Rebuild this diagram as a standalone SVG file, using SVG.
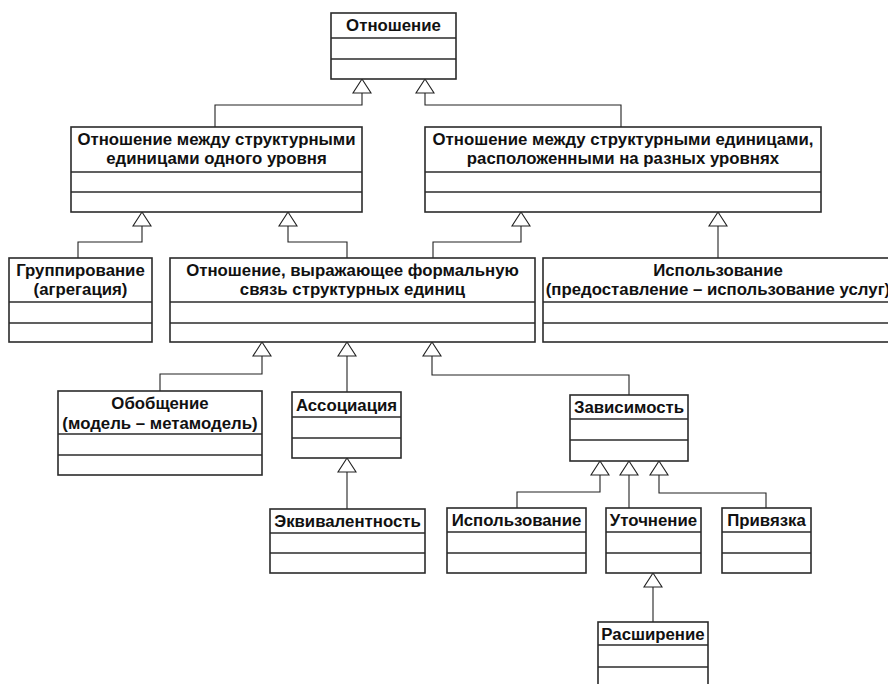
<svg xmlns="http://www.w3.org/2000/svg" width="888" height="684" viewBox="0 0 888 684">
  <style>
    .box { fill: #ffffff; stroke: #2b2b2b; stroke-width: 1.6; }
    .div { stroke: #2b2b2b; stroke-width: 1.6; }
    .t { font-family: "Liberation Sans", Arial, sans-serif; font-weight: bold; font-size: 16.8px; fill: #111; text-anchor: middle; }
    .conn { fill: none; stroke: #222; stroke-width: 1.1; }
    .tri { fill: #ffffff; stroke: #222; stroke-width: 1.1; }
  </style>
  <defs>
    <!-- generalization arrowhead: apex at (0,0), opening downward -->
    <path id="gen" class="tri" d="M0,0 L9,14 L-9,14 Z"/>
  </defs>
  <rect width="888" height="684" fill="#ffffff"/>

  <!-- connectors -->
  <g id="connectors">
    <path class="conn" d="M362,93 V105 H215 V127"/>
    <path class="conn" d="M425,93 V105 H621 V127"/>
    <path class="conn" d="M142,226 V242 H78 V258"/>
    <path class="conn" d="M288,226 V242 H347 V258"/>
    <path class="conn" d="M521,226 V242 H433 V258"/>
    <path class="conn" d="M718,226 V258"/>
    <path class="conn" d="M262,356 V374 H160 V391"/>
    <path class="conn" d="M347,356 V392"/>
    <path class="conn" d="M432,356 V375 H629 V395"/>
    <path class="conn" d="M347,472 V509"/>
    <path class="conn" d="M600,475 V492 H517 V508"/>
    <path class="conn" d="M629,475 V508"/>
    <path class="conn" d="M659,475 V493 H766 V508"/>
    <path class="conn" d="M653,587 V622"/>
    <use href="#gen" x="362" y="79"/>
    <use href="#gen" x="425" y="79"/>
    <use href="#gen" x="142" y="212"/>
    <use href="#gen" x="288" y="212"/>
    <use href="#gen" x="521" y="212"/>
    <use href="#gen" x="718" y="212"/>
    <use href="#gen" x="262" y="342"/>
    <use href="#gen" x="347" y="342"/>
    <use href="#gen" x="432" y="342"/>
    <use href="#gen" x="347" y="458"/>
    <use href="#gen" x="600" y="461"/>
    <use href="#gen" x="629" y="461"/>
    <use href="#gen" x="659" y="461"/>
    <use href="#gen" x="653" y="573"/>
  </g>

  <g id="relation">
    <rect class="box" x="331" y="13" width="125" height="66"/>
    <line class="div" x1="331" y1="38" x2="456" y2="38"/>
    <line class="div" x1="331" y1="59" x2="456" y2="59"/>
    <text class="t" x="393.5" y="31">Отношение</text>
  </g>

  <g id="same-level">
    <rect class="box" x="71" y="127" width="291" height="85"/>
    <line class="div" x1="71" y1="172" x2="362" y2="172"/>
    <line class="div" x1="71" y1="192" x2="362" y2="192"/>
    <text class="t" x="216.5" y="145">Отношение между структурными</text>
    <text class="t" x="216.5" y="164">единицами одного уровня</text>
  </g>

  <g id="cross-level">
    <rect class="box" x="425" y="127" width="396" height="85"/>
    <line class="div" x1="425" y1="172" x2="821" y2="172"/>
    <line class="div" x1="425" y1="192" x2="821" y2="192"/>
    <text class="t" x="623" y="145">Отношение между структурными единицами,</text>
    <text class="t" x="623" y="164">расположенными на разных уровнях</text>
  </g>

  <g id="grouping">
    <rect class="box" x="9" y="258" width="143" height="84"/>
    <line class="div" x1="9" y1="302" x2="152" y2="302"/>
    <line class="div" x1="9" y1="323" x2="152" y2="323"/>
    <text class="t" x="80.5" y="276">Группирование</text>
    <text class="t" x="80.5" y="295">(агрегация)</text>
  </g>

  <g id="formal-link">
    <rect class="box" x="170" y="258" width="365" height="84"/>
    <line class="div" x1="170" y1="302" x2="535" y2="302"/>
    <line class="div" x1="170" y1="323" x2="535" y2="323"/>
    <text class="t" x="352.5" y="276">Отношение, выражающее формальную</text>
    <text class="t" x="352.5" y="295">связь структурных единиц</text>
  </g>

  <g id="usage-services">
    <rect class="box" x="543" y="258" width="352" height="84"/>
    <line class="div" x1="543" y1="302" x2="895" y2="302"/>
    <line class="div" x1="543" y1="323" x2="895" y2="323"/>
    <text class="t" x="718" y="276">Использование</text>
    <text class="t" x="718" y="295">(предоставление – использование услуг)</text>
  </g>

  <g id="generalization">
    <rect class="box" x="58" y="391" width="204" height="84"/>
    <line class="div" x1="58" y1="434" x2="262" y2="434"/>
    <line class="div" x1="58" y1="455" x2="262" y2="455"/>
    <text class="t" x="160" y="409">Обобщение</text>
    <text class="t" x="160" y="429">(модель – метамодель)</text>
  </g>

  <g id="association">
    <rect class="box" x="292" y="392" width="109" height="66"/>
    <line class="div" x1="292" y1="417" x2="401" y2="417"/>
    <line class="div" x1="292" y1="438" x2="401" y2="438"/>
    <text class="t" x="346.5" y="411">Ассоциация</text>
  </g>

  <g id="equivalence">
    <rect class="box" x="270" y="509" width="155" height="64"/>
    <line class="div" x1="270" y1="533" x2="425" y2="533"/>
    <line class="div" x1="270" y1="553" x2="425" y2="553"/>
    <text class="t" x="347.5" y="527">Эквивалентность</text>
  </g>

  <g id="dependency">
    <rect class="box" x="570" y="395" width="118" height="66"/>
    <line class="div" x1="570" y1="419" x2="688" y2="419"/>
    <line class="div" x1="570" y1="440" x2="688" y2="440"/>
    <text class="t" x="629" y="413">Зависимость</text>
  </g>

  <g id="usage">
    <rect class="box" x="447" y="508" width="139" height="65"/>
    <line class="div" x1="447" y1="532" x2="586" y2="532"/>
    <line class="div" x1="447" y1="553" x2="586" y2="553"/>
    <text class="t" x="516.5" y="526">Использование</text>
  </g>

  <g id="refinement">
    <rect class="box" x="606" y="508" width="95" height="65"/>
    <line class="div" x1="606" y1="532" x2="701" y2="532"/>
    <line class="div" x1="606" y1="553" x2="701" y2="553"/>
    <text class="t" x="653.5" y="526">Уточнение</text>
  </g>

  <g id="binding">
    <rect class="box" x="722" y="508" width="89" height="65"/>
    <line class="div" x1="722" y1="532" x2="811" y2="532"/>
    <line class="div" x1="722" y1="553" x2="811" y2="553"/>
    <text class="t" x="766.5" y="526">Привязка</text>
  </g>

  <g id="extension">
    <rect class="box" x="598" y="622" width="110" height="70"/>
    <line class="div" x1="598" y1="645" x2="708" y2="645"/>
    <line class="div" x1="598" y1="667" x2="708" y2="667"/>
    <text class="t" x="653" y="640">Расширение</text>
  </g>
</svg>
